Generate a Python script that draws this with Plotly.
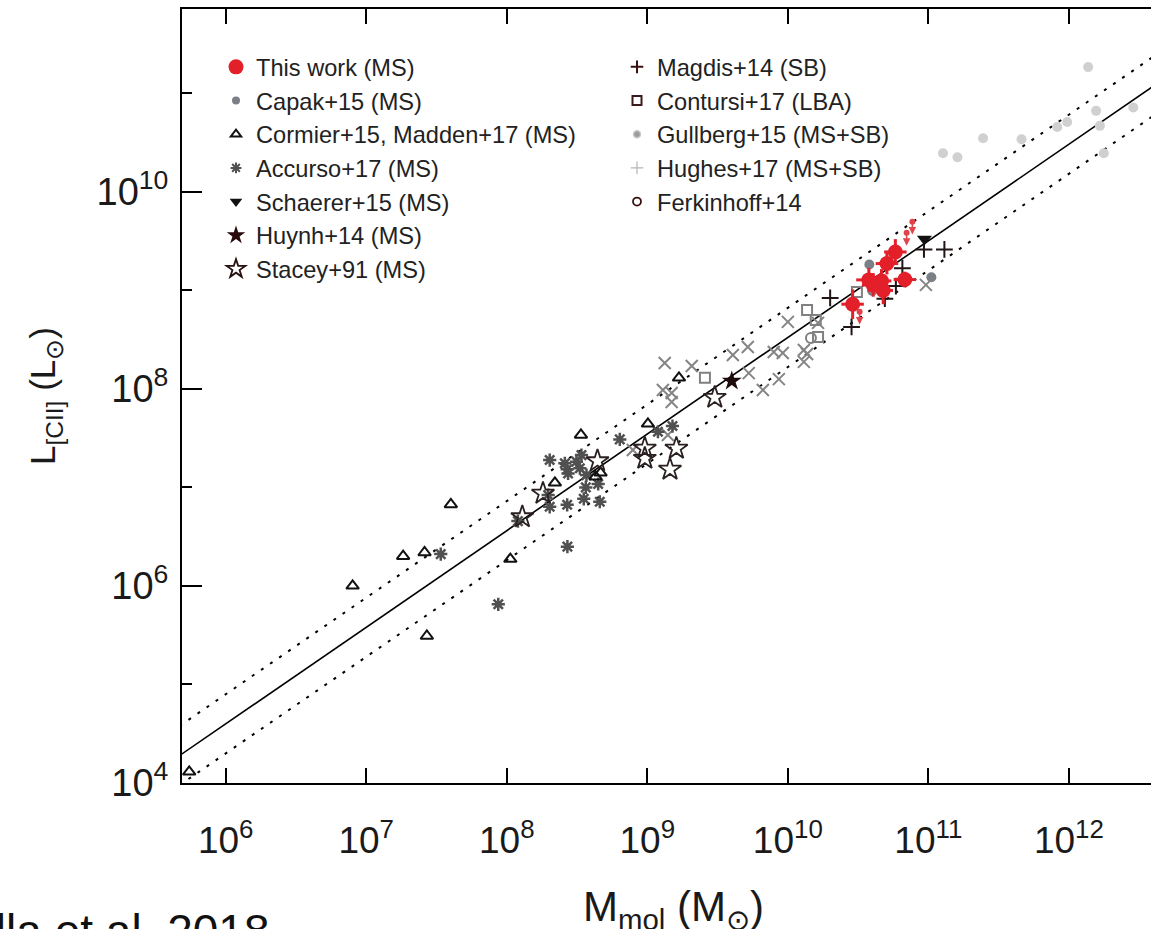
import numpy as np
import plotly.graph_objects as go

# ---------------- data (M_mol in M_sun, L_[CII] in L_sun) ----------------
this_work_mmol = [5.82e10, 5.07e10, 3.77e10, 4.64e10, 6.8e10, 4.77e10, 4.05e10, 2.89e10]
this_work_lcii = [2.44e9, 1.86e9, 1.27e9, 1.24e9, 1.28e9, 9.93e8, 1.13e9, 7.2e8]
this_work_err_mmol_dex = [0.08, 0.08, 0.09, 0.07, 0.08, 0.07, 0.08, 0.08]
this_work_err_lcii_dex = [0.13, 0.11, 0.12, 0.12, 0.08, 0.14, 0.12, 0.15]
limit_mmol = [7.69e10, 7.0e10, 3.24e10]
limit_lcii = [4.95e9, 3.81e9, 6.05e8]
limit_arrow_dex = 0.13

capak_mmol = [3.8e10, 1.05e11, 3.99e10]
capak_lcii = [1.82e9, 1.35e9, 9.8e8]

cormier_mmol = [5.5e5, 8.0e6, 1.83e7, 2.6e7, 4.0e7, 2.7e7, 1.06e8, 3.37e8, 2.2e8,
                4.65e8, 4.28e8, 1.01e9, 1.68e9]
cormier_lcii = [1.3e4, 1.0e6, 2.0e6, 2.18e6, 6.7e6, 3.1e5, 1.87e6, 3.4e7, 1.11e7,
                1.4e7, 1.28e7, 4.4e7, 1.29e8]

accurso_mmol = [3.39e7, 8.7e7, 2.7e8, 2.02e8, 2.59e8, 2.69e8, 3.13e8, 3.4e8, 3.31e8,
                2.73e8, 3.69e8, 2.02e8, 2.69e8, 3.53e8, 4.59e8, 4.47e8, 3.65e8,
                6.37e8, 1.19e9, 1.51e9, 1.2e8, 1.97e8]
accurso_lcii = [2.1e6, 6.5e5, 2.5e6, 1.89e7, 1.75e7, 1.52e7, 1.82e7, 2.12e7, 1.56e7,
                1.38e7, 1.33e7, 6.34e6, 6.64e6, 7.64e6, 7.13e6, 1.08e7, 9.97e6,
                3.06e7, 3.66e7, 4.18e7, 4.54e6, 8.34e6]

schaerer_mmol = [9.37e10]
schaerer_lcii = [3.31e9]

huynh_mmol = [3.99e9]
huynh_lcii = [1.2e8]

stacey_mmol = [3.02e9, 1.29e8, 1.81e8, 4.42e8, 9.6e8, 9.6e8, 1.61e9, 1.45e9]
stacey_lcii = [8.15e7, 5.0e6, 8.67e6, 1.85e7, 2.48e7, 1.96e7, 2.48e7, 1.52e7]

magdis_mmol = [9.3e10, 1.3e11, 2.0e10, 2.84e10, 6.53e10, 5.87e10, 4.9e10]
magdis_lcii = [2.59e9, 2.59e9, 8.34e8, 4.23e8, 1.67e9, 1.1e9, 8.19e8]

contursi_mmol = [2.57e9, 1.37e10, 1.58e10, 1.64e10, 3.1e10]
contursi_lcii = [1.29e8, 6.3e8, 4.98e8, 3.35e8, 9.6e8]

gullberg_mmol = [1.37e12, 2.45e11, 1.27e11, 1.61e11, 4.6e11, 8.26e11, 9.72e11,
                 1.56e12, 1.66e12, 1.77e12, 2.87e12]
gullberg_lcii = [1.83e11, 3.48e10, 2.45e10, 2.23e10, 3.4e10, 4.51e10, 5.07e10,
                 6.59e10, 4.64e10, 2.45e10, 7.13e10]

hughes_mmol = [1.33e9, 2.07e9, 1.29e9, 1.49e9, 1.49e9, 1.4e9, 7.89e8, 4.06e9, 5.19e9,
               7.94e9, 9.2e9, 5.27e9, 8.63e9, 6.64e9, 1.0e10, 1.3e10, 1.37e10,
               1.3e10, 1.64e10, 9.6e10]
hughes_lcii = [1.82e8, 1.7e8, 9.7e7, 9.04e7, 7.33e7, 3.39e7, 2.39e7, 2.2e8, 2.65e8,
               2.36e8, 2.3e8, 1.44e8, 1.25e8, 9.7e7, 4.76e8, 2.47e8, 2.25e8,
               1.87e8, 4.65e8, 1.13e9]

ferkinhoff_mmol = [1.46e10]
ferkinhoff_lcii = [3.27e8]

# relation log L = slope * log M + intercept, with scatter (dex)
fit_slope = 0.98
fit_intercept = -1.28
fit_scatter_dex = 0.3
fit_mmol_range = [3e5, 6e12]

x_tick_vals = [1e6, 1e7, 1e8, 1e9, 1e10, 1e11, 1e12]
x_tick_text = ["10<sup>6</sup>", "10<sup>7</sup>", "10<sup>8</sup>", "10<sup>9</sup>",
               "10<sup>10</sup>", "10<sup>11</sup>", "10<sup>12</sup>"]
y_tick_vals = [1e4, 1e6, 1e8, 1e10]
y_tick_text = ["10<sup>4</sup>", "10<sup>6</sup>", "10<sup>8</sup>", "10<sup>10</sup>"]
y_minor_vals = [1e5, 1e7, 1e9, 1e11]

x_title = "M<sub>mol</sub> (M<sub>⊙</sub>)"
y_title = "L<sub>[CII]</sub> (L<sub>⊙</sub>)"
source_text = "Zanella et al. 2018"

# ---------------- figure ----------------
fig = go.Figure()

fm = np.array(fit_mmol_range)
fl = 10 ** (fit_slope * np.log10(fm) + fit_intercept)
for off, dash in [(0, "solid"), (fit_scatter_dex, "3px,8px"), (-fit_scatter_dex, "3px,8px")]:
    fig.add_trace(go.Scatter(x=fm, y=fl * 10 ** off, mode="lines",
                             line=dict(color="black", width=2 if dash != "solid" else 1.6, dash=dash),
                             showlegend=False, hoverinfo="skip"))

RED = "#e3202a"
FONT = "Liberation Sans, Arial, sans-serif"
legend_font = dict(family=FONT, size=23.6, color="#222222")


def add(x, y, name, marker):
    fig.add_trace(go.Scatter(x=x, y=y, mode="markers", name=name, marker=marker,
                             showlegend=False))


# data sets (legend drawn separately below)
add(gullberg_mmol, gullberg_lcii, "Gullberg+15 (MS+SB)",
    dict(symbol="circle", size=10, color="#d0d0d0"))
add(hughes_mmol, hughes_lcii, "Hughes+17 (MS+SB)",
    dict(symbol="x-thin-open", size=12, color="#858585", line=dict(width=2, color="#858585")))
add(contursi_mmol, contursi_lcii, "Contursi+17 (LBA)",
    dict(symbol="square-open", size=10, color="#808080", line=dict(width=2, color="#808080")))
add(ferkinhoff_mmol, ferkinhoff_lcii, "Ferkinhoff+14",
    dict(symbol="circle-open", size=10, color="#808080", line=dict(width=2, color="#808080")))
add(accurso_mmol, accurso_lcii, "Accurso+17 (MS)",
    dict(symbol="asterisk-open", size=11, color="#505050", line=dict(width=2.5, color="#505050")))
add(cormier_mmol, cormier_lcii, "Cormier+15, Madden+17 (MS)",
    dict(symbol="triangle-up-open", size=11, color="#111111", line=dict(width=2, color="#111111")))
add(stacey_mmol, stacey_lcii, "Stacey+91 (MS)",
    dict(symbol="star-open", size=17, color="#2a2020", line=dict(width=1.8, color="#2a2020")))
add(huynh_mmol, huynh_lcii, "Huynh+14 (MS)",
    dict(symbol="star", size=15, color="#1e0c0c"))
add(magdis_mmol, magdis_lcii, "Magdis+14 (SB)",
    dict(symbol="cross-thin-open", size=12, color="#221515", line=dict(width=2, color="#221515")))
add(capak_mmol, capak_lcii, "Capak+15 (MS)",
    dict(symbol="circle", size=10, color="#7b7f86"))
add(schaerer_mmol, schaerer_lcii, "Schaerer+15 (MS)",
    dict(symbol="triangle-down", size=13, color="#111111"))

# this work, with error bars
tw_m = np.array(this_work_mmol)
tw_l = np.array(this_work_lcii)
ex = np.array(this_work_err_mmol_dex)
ey = np.array(this_work_err_lcii_dex)
fig.add_trace(go.Scatter(
    x=tw_m, y=tw_l, mode="markers", name="This work (MS)", showlegend=False,
    marker=dict(symbol="circle", size=15, color=RED),
    error_x=dict(type="data", symmetric=False, array=tw_m * (10 ** ex - 1),
                 arrayminus=tw_m * (1 - 10 ** -ex), color=RED, thickness=3, width=0),
    error_y=dict(type="data", symmetric=False, array=tw_l * (10 ** ey - 1),
                 arrayminus=tw_l * (1 - 10 ** -ey), color=RED, thickness=3, width=0)))
fig.add_trace(go.Scatter(x=limit_mmol, y=limit_lcii, mode="markers", showlegend=False,
                         marker=dict(symbol="circle", size=6, color="#e2424a")))
for m, l in zip(limit_mmol, limit_lcii):
    fig.add_annotation(x=np.log10(m), y=np.log10(l) - limit_arrow_dex,
                       ax=np.log10(m), ay=np.log10(l), xref="x", yref="y",
                       axref="x", ayref="y", showarrow=True, arrowhead=2, arrowsize=1,
                       arrowwidth=1.5, arrowcolor="#e2424a", text="", standoff=0)

# legend entries
nan = [None]
left_entries = [
    ("This work (MS)", dict(symbol="circle", size=15, color=RED)),
    ("Capak+15 (MS)", dict(symbol="circle", size=8, color="#7b7f86")),
    ("Cormier+15, Madden+17 (MS)", dict(symbol="triangle-up-open", size=9, color="#111111",
                                        line=dict(width=2, color="#111111"))),
    ("Accurso+17 (MS)", dict(symbol="asterisk-open", size=9, color="#505050",
                             line=dict(width=2, color="#505050"))),
    ("Schaerer+15 (MS)", dict(symbol="triangle-down", size=11, color="#111111")),
    ("Huynh+14 (MS)", dict(symbol="star", size=14, color="#2a0a0a")),
    ("Stacey+91 (MS)", dict(symbol="star-open", size=14, color="#2a1010",
                            line=dict(width=1.8, color="#2a1010"))),
]
right_entries = [
    ("Magdis+14 (SB)", dict(symbol="cross-thin-open", size=9, color="#3a1010",
                            line=dict(width=2, color="#3a1010"))),
    ("Contursi+17 (LBA)", dict(symbol="square-open", size=9, color="#3a1a1a",
                               line=dict(width=2, color="#3a1a1a"))),
    ("Gullberg+15 (MS+SB)", dict(symbol="circle", size=7, color="#9c9c9c",
                                 line=dict(width=1.5, color="#c8c8c8"))),
    ("Hughes+17 (MS+SB)", dict(symbol="cross-thin-open", size=9, color="#b5b5b5",
                               line=dict(width=1.2, color="#b5b5b5"))),
    ("Ferkinhoff+14", dict(symbol="circle-open", size=8, color="#3a1010",
                           line=dict(width=1.8, color="#3a1010"))),
]
for name, mk in left_entries:
    fig.add_trace(go.Scatter(x=nan, y=nan, mode="markers", name=name, marker=mk,
                             legend="legend", legendgroup="L_" + name, showlegend=True))
for name, mk in right_entries:
    fig.add_trace(go.Scatter(x=nan, y=nan, mode="markers", name=name, marker=mk,
                             legend="legend2", legendgroup="R_" + name, showlegend=True))

PLOT_L, PLOT_T, PLOT_B = 182, 9, 146
W, H = 1151, 929
pw = W - PLOT_L
ph = H - PLOT_T - PLOT_B


def px_to_paper_x(px):
    return (px - PLOT_L) / pw


def px_to_paper_y(py):
    return (H - PLOT_B - py) / ph


x_tick_font = dict(family=FONT, size=37, color="#1a1a1a")
y_tick_font = dict(family=FONT, size=38, color="#1a1a1a")

fig.update_layout(
    width=W, height=H, autosize=False,
    margin=dict(l=PLOT_L, r=0, t=PLOT_T, b=PLOT_B),
    paper_bgcolor="white", plot_bgcolor="white",
    showlegend=True,
    legend=dict(x=px_to_paper_x(216), y=px_to_paper_y(45), xanchor="left", yanchor="top",
                bgcolor="rgba(0,0,0,0)", borderwidth=0, font=legend_font,
                traceorder="grouped", tracegroupgap=0, itemwidth=30),
    legend2=dict(x=px_to_paper_x(617), y=px_to_paper_y(45), xanchor="left", yanchor="top",
                 bgcolor="rgba(0,0,0,0)", borderwidth=0, font=legend_font,
                 traceorder="grouped", tracegroupgap=0, itemwidth=30),
    xaxis=dict(type="log", range=[5.689, 12.584], showgrid=False, zeroline=False,
               showline=True, linecolor="black", linewidth=2, mirror="ticks",
               ticks="inside", ticklen=15, tickwidth=2, tickcolor="black",
               tickmode="array", tickvals=x_tick_vals, ticktext=x_tick_text,
               tickfont=x_tick_font, ticklabelstandoff=24),
    yaxis=dict(type="log", range=[4.0, 11.852], showgrid=False, zeroline=False,
               showline=True, linecolor="black", linewidth=2, mirror=False,
               ticks="inside", ticklen=20, tickwidth=2, tickcolor="black",
               tickmode="array", tickvals=y_tick_vals, ticktext=y_tick_text,
               tickfont=y_tick_font, ticklabelstandoff=4,
               minor=dict(tickmode="array", tickvals=y_minor_vals, ticks="inside",
                          ticklen=10, tickwidth=2, tickcolor="black", showgrid=False),
               title=dict(text=y_title, standoff=30,
                          font=dict(family=FONT, size=35, color="#1a1a1a"))),
)

# x-axis title (placed as paper text so it sits where the reference has it)
fig.add_annotation(text=x_title, xref="paper", yref="paper",
                   x=px_to_paper_x(673), y=px_to_paper_y(881), xanchor="center", yanchor="top",
                   showarrow=False, font=dict(family=FONT, size=42, color="#1a1a1a"))

fig.add_annotation(text=source_text, xref="paper", yref="paper",
                   x=px_to_paper_x(272), y=px_to_paper_y(903), xanchor="right", yanchor="top",
                   showarrow=False,
                   font=dict(family=FONT, size=46, color="#111111"))

fig.write_html("out.html", config={"displayModeBar": False},
               post_script="document.body.style.margin='0px';document.body.style.overflow='hidden';")
